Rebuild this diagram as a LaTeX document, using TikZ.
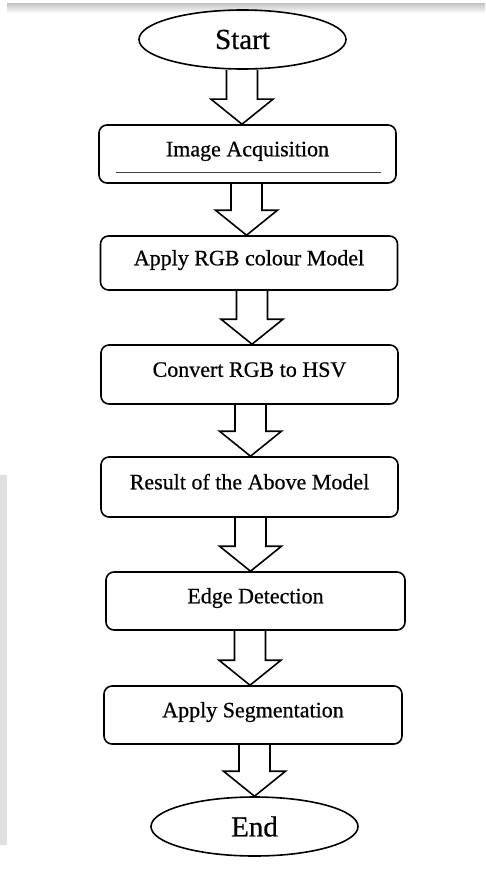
\documentclass[tikz,border=0pt]{standalone}
\usepackage{fontspec}
\setmainfont{Liberation Serif}
\newfontfamily\labelfont[FakeBold=0.6]{Liberation Serif}
\usetikzlibrary{shapes.geometric,calc}

% hollow block arrow from the bottom of #1 to the top of #2, axis at x = #3
\newcommand\flowarrow[3]{%
  \draw[blockarrow] let \p1=(#1.south), \p2=(#2.north) in
    (#3pt-15.5pt,\y1) -- (#3pt-15.5pt,\y2+25pt) -- (#3pt-31pt,\y2+25pt)
    -- (#3pt,\y2) -- (#3pt+31pt,\y2+25pt) -- (#3pt+15.5pt,\y2+25pt)
    -- (#3pt+15.5pt,\y1);}

\begin{document}
\begin{tikzpicture}[x=1pt,y=-1pt,
  stepbox/.style={draw=black,line width=1.6pt,rounded corners=8pt,
    minimum width=297pt,minimum height=58pt,inner sep=0pt,
    text height=14pt,text depth=9.4pt,font=\labelfont\fontsize{22}{26}\selectfont},
  terminal/.style={ellipse,draw=black,line width=1.6pt,minimum width=207pt,
    minimum height=59pt,inner sep=0pt,font=\labelfont\fontsize{29}{34}\selectfont},
  blockarrow/.style={draw=black,line width=1.6pt,line join=miter}]

\useasboundingbox (0,0) rectangle (485,869);
\fill[white] (0,0) rectangle (485,869);
% page edge shadows
\shade[top color=black!22,bottom color=white] (7,4) rectangle (485,13);
\fill[black!12] (0,475) rectangle (7,845);

\node[terminal] (start) at (242.5,39.5) {Start};
\node[stepbox] (acq) at (247.5,154) {Image Acquisition};
\node[stepbox,minimum height=54pt] (rgb) at (249,263) {Apply RGB colour Model};
\node[stepbox,minimum height=59pt] (hsv) at (249.5,374.5) {Convert RGB to HSV};
\node[stepbox,minimum height=60pt] (res) at (249.5,487) {Result of the Above Model};
\node[stepbox,minimum width=299pt] (edge) at (255.5,601) {Edge Detection};
\node[stepbox,minimum width=298pt] (seg) at (253,715) {Apply Segmentation};
\node[terminal] (end) at (254.5,826.5) {End};

% rule inside the acquisition box
\draw[line width=0.9pt,black!75] ([xshift=18pt,yshift=11pt]acq.south west)
  -- ([xshift=-16pt,yshift=11pt]acq.south east);

\flowarrow{start}{acq}{242}
\flowarrow{acq}{rgb}{246.5}
\flowarrow{rgb}{hsv}{252}
\flowarrow{hsv}{res}{250.5}
\flowarrow{res}{edge}{250.5}
\flowarrow{edge}{seg}{250}
\flowarrow{seg}{end}{254.5}
\end{tikzpicture}
\end{document}
